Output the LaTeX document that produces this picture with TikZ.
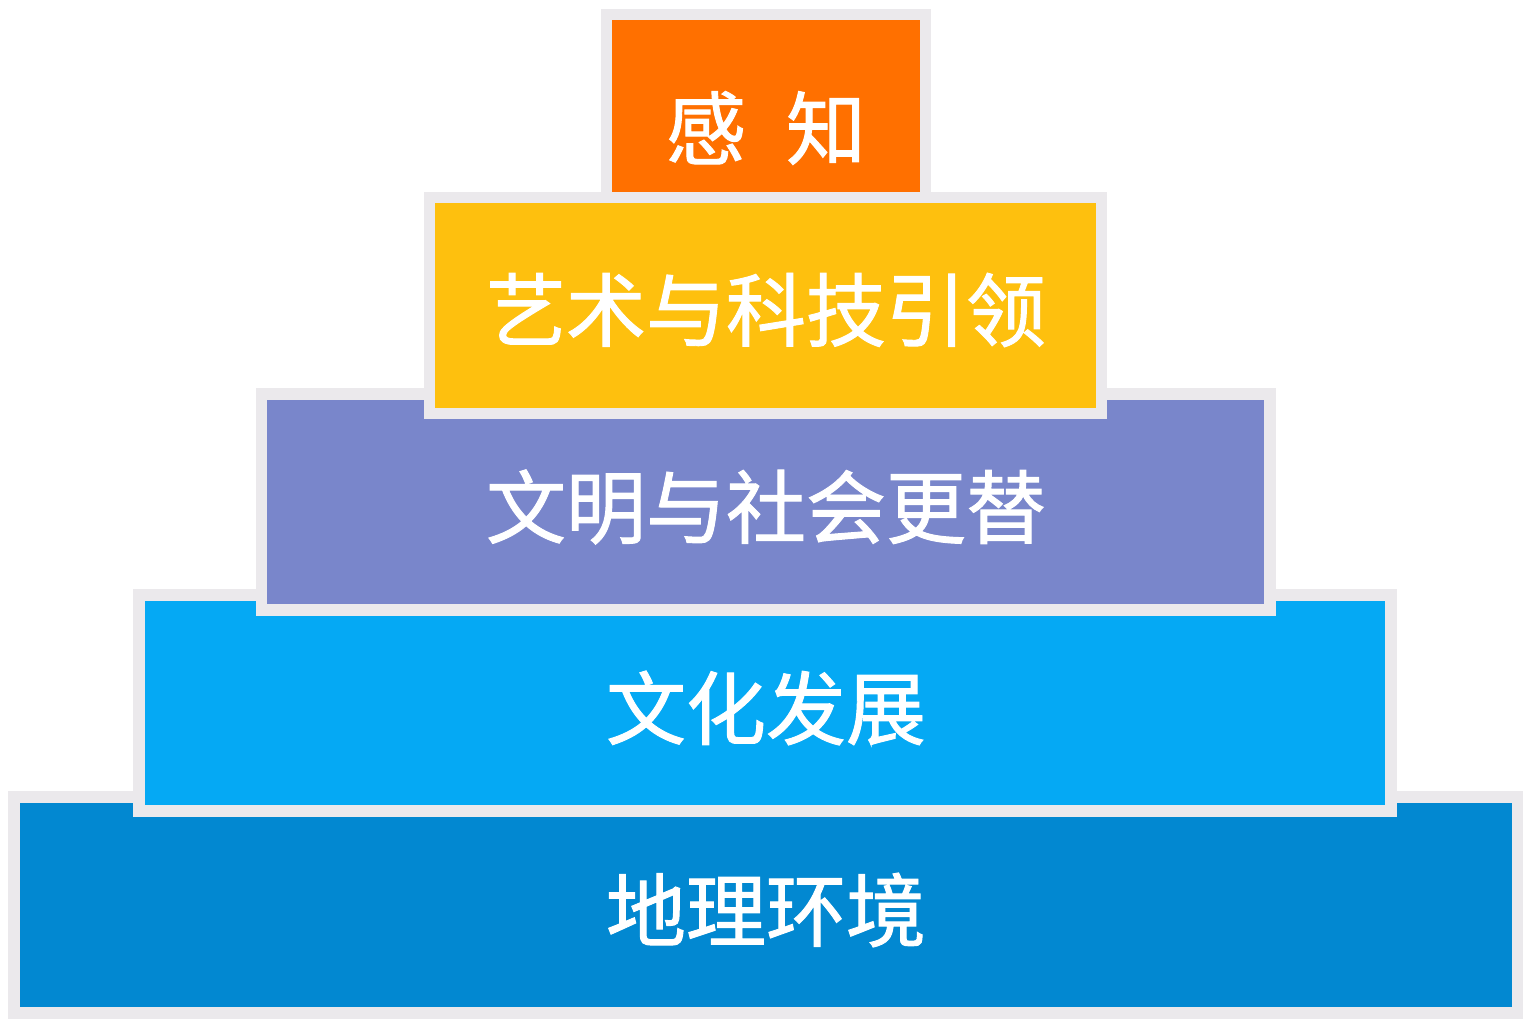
\documentclass[tikz,border=0pt]{standalone}
\usepackage{fontspec}
\newfontfamily\cjk[UprightFeatures={FakeBold=1.2}]{Noto Sans CJK SC}
\definecolor{edgegray}{HTML}{EBE9EC}
\definecolor{cOrange}{HTML}{FF7000}
\definecolor{cYellow}{HTML}{FEC00E}
\definecolor{cPurple}{HTML}{7986CB}
\definecolor{cLight}{HTML}{05A9F4}
\definecolor{cBlue}{HTML}{0288D1}
\begin{document}
\begin{tikzpicture}[x=1pt,y=-1pt,
  tier/.style={rectangle, draw=edgegray, line width=11.5pt, inner sep=0pt, minimum height=216pt},
  label/.style={text=white, font=\cjk\fontsize{80}{96}\selectfont, inner sep=0pt}]
\useasboundingbox (0,0) rectangle (1540,1035);
\node[tier, fill=cBlue, minimum width=1503.5pt] (t5) at (765.75,905) {};
\node[tier, fill=cLight, minimum width=1252pt] (t4) at (765,702.75) {};
\node[tier, fill=cPurple, minimum width=1008.5pt] (t3) at (765.75,502) {};
\node[tier, fill=cOrange, minimum width=319pt, minimum height=190pt] (t1) at (766,109.5) {};
\node[tier, fill=cYellow, minimum width=672pt] (t2) at (765.5,305.5) {};
\node[label] (l1) at (766,128) {感\hspace{0.5em}知};
\node[label] (l2) at (766,310) {艺术与科技引领};
\node[label] (l3) at (766,507) {文明与社会更替};
\node[label] (l4) at (766,708) {文化发展};
\node[label] (l5) at (766,910) {地理环境};
\end{tikzpicture}
\end{document}
